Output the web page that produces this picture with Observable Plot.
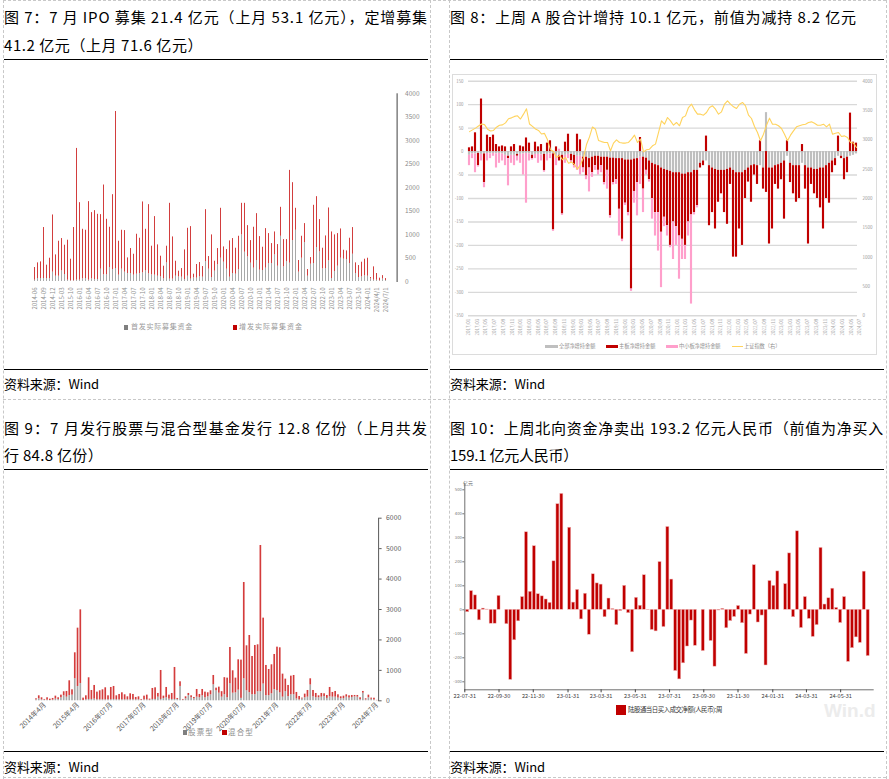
<!DOCTYPE html>
<html><head><meta charset="utf-8">
<script src="https://cdn.jsdelivr.net/npm/d3@7"></script>
<script src="https://cdn.jsdelivr.net/npm/@observablehq/plot@0.6"></script>
<style>
html,body{margin:0;padding:0;background:#fff}
body{width:889px;height:779px;position:relative;overflow:hidden;font-family:"Noto Sans CJK SC","Noto Sans",sans-serif;color:#000}
.t{position:absolute;white-space:nowrap;line-height:1;font-size:15px}
.src{position:absolute;white-space:nowrap;line-height:1;font-size:13px}
.hl{position:absolute;height:0;border-top:1.5px solid #000}
.dv{position:absolute;width:0;border-left:1px dashed #c8c8c8}
.dh{position:absolute;height:0;border-top:1px dashed #c8c8c8}
.lg{position:absolute;white-space:nowrap;line-height:1}
.sq{display:inline-block;vertical-align:middle}
</style></head>
<body>
<script>
// ---------------- Panel 1 (图7) ----------------
const p1TickLabels = ["2014-06","2014-09","2014-12","2015-03","2015-10","2016-01","2016-04","2016-07","2016-10","2017-01","2017-04","2017-07","2017-10","2018-01","2018-04","2018-07","2018-10","2019-01","2019-04","2019-07","2019-10","2020-01","2020-04","2020-07","2020-10","2021-01","2021-04","2021-07","2021-10","2022-01","2022-04","2022-07","2022-10","2023-01","2023-04","2023-07","2023-10","2024-01","2024/4/1","2024/7/1"];
const p1Ipo = [28,64,64,64,60,60,199,113,113,227,149,28,14,14,28,28,57,64,28,57,43,43,262,142,142,298,255,276,135,262,199,170,170,135,156,170,184,227,163,142,135,113,99,57,397,50,50,113,99,92,43,113,50,78,71,99,92,425,262,85,220,355,496,411,262,92,170,156,255,993,624,525,390,284,447,241,234,284,383,383,567,326,964,312,425,390,872,1092,199,496,830,113,369,383,723,631,269,276,440,64,213,326,496,475,468,383,581,170,85,99,121,113,57,28,28,14,53,21];
const p1Add = [270,333,354,1086,288,436,1219,454,745,688,624,852,461,1136,2808,1652,1056,1028,1674,1411,1467,1389,1163,1914,1184,858,1595,3347,723,830,886,333,532,446,851,752,1511,886,1475,610,1248,667,440,269,355,1616,900,319,121,184,631,1021,1120,78,291,305,227,1106,270,908,212,347,1064,326,419,773,745,553,709,673,1042,666,482,872,999,716,496,843,638,425,489,461,617,581,468,1978,1234,468,248,468,404,142,141,1241,1085,688,440,695,1127,992,780,695,624,191,184,539,568,227,255,312,354,383,28,284,142,57,72,41];
const p1Series = ["首发实际募集资金","增发实际募集资金"];
// month categories (IPO-halt months 2015-04..2015-07 absent)
const p1Keys = [];
{ let y = 2014, m = 6;
  while (p1Keys.length < p1Ipo.length) {
    const skip = y === 2015 && m >= 4 && m <= 7;
    if (!skip) {
      let key = `${y}-${String(m).padStart(2,"0")}`;
      if (key === "2024-04") key = "2024/4/1";
      if (key === "2024-07") key = "2024/7/1";
      p1Keys.push(key);
    }
    m++; if (m > 12) { m = 1; y++; }
  }
}
// ---------------- Panel 2 (图8) ----------------
const p2Series = ["全部净增持金额","主板净增持金额","中小板净增持金额"];
const p2All = [-8,-5,-5,-4,-6,-5,-4,-5,-4,-5,-4,-5,-8,-10,-8,-8,-6,-6,-5,-4,-5,-8,-6,-6,-7,-6,-6,-5,-5,-8,-8,-8,-8,-6,-6,-8,-10,-10,-12,-12,-15,-12,-10,
 -10,-12,-12,-12,-14,-14,-15,-15,-15,-18,-18,-18,-16,-15,-12,-12,-14,-20,-25,-28,-30,-35,-38,-40,-42,-45,-45,-45,-48,-48,-45,-45,-40,-40,-25,-20,-20,-30,-35,-38,-40,-40,-40,
 -38,-35,-40,-45,-45,-45,-40,-35,-30,-28,-30,-30,-35,83,-35,-35,-30,-28,-25,-20,-10,-25,-30,-30,-30,-25,-30,-35,-35,-38,-38,-35,-35,-30,-25,-20,-15,-10,-10,-15,-12,-10,-8,-5];
const p2Main = [8,10,40,-26,112,-61,35,30,35,15,10,12,10,-5,10,15,-4,12,10,29,18,-7,20,10,15,-35,18,23,-162,10,-12,-125,20,37,-14,-22,37,25,-23,-40,-20,-33,-20,
 -30,-18,-54,-28,-123,-52,-45,-108,-172,-92,-112,-275,-69,-51,30,-68,-26,-40,-75,-102,-100,-137,-102,-118,-158,-105,-115,-135,-139,-152,-105,-90,-90,-75,-10,-10,33,-128,-95,-127,-68,-50,-90,
 -117,-35,-185,-180,-120,-155,-60,-30,-78,-22,-40,23,-45,-87,-162,-130,-40,-52,-35,-124,23,-41,-60,-78,-70,15,-50,-162,-35,-52,-62,-85,-130,-70,-85,-25,-15,33,-5,-45,-33,82,20,18];
const p2Sme = [-22,-10,-40,-3,-14,-11,-16,-10,-6,-30,-21,-15,-22,-58,-17,-22,-10,-19,-45,-106,-15,-3,-9,-19,-13,-3,-14,-10,-3,-22,5,-3,-17,-9,-5,-5,-30,-40,-10,-8,-51,-10,-10,
 -10,-15,-5,-40,-5,-5,-10,-57,-5,-5,-7,-5,-25,-71,-58,-50,-10,-5,-44,-50,-82,-118,-20,-22,-5,-80,-40,-92,-43,-30,-30,-190,-5,-5];
const p2Sse = [3140,3170,3200,3235,3270,3260,3182,3150,3160,3215,3250,3255,3290,3360,3375,3400,3410,3355,3438,3530,3270,3230,3185,3160,3100,3110,3000,2830,2800,2700,2735,2660,2700,2600,2620,2580,2500,2580,2700,2920,3050,3220,3180,
 2990,2970,2955,2955,2813,2945,3000,2955,2945,2945,2955,3012,3080,2955,3012,2795,2830,2841,2898,2927,3125,3324,3267,3381,3324,3250,3296,3240,3381,3409,3551,3608,3512,3438,3438,3421,3466,3551,3580,3523,3438,3478,3608,
 3665,3608,3563,3535,3608,3637,3580,3421,3364,3228,3125,2984,3097,3250,3370,3267,3267,3240,3194,3097,2984,3080,3154,3222,3240,3256,3267,3296,3307,3284,3250,3250,3267,3222,3267,3097,3114,3125,3057,3068,3040,2955,2945,2870];
const p2LeftTicks = [150,100,50,0,-50,-100,-150,-200,-250,-300,-350];
const p2RightTicks = [4000,3500,3000,2500,2000,1500,1000,500,0];
const p2TickLabels = ["2017/01","2017/03","2017/05","2017/07","2017/09","2017/11","2018/01","2018/03","2018/05","2018/07","2018/09","2018/11","2019/01","2019/03","2019/05","2019/07","2019/09","2019/11","2020/01","2020/03","2020/05","2020/07","2020/09","2020/11","2021/01","2021/03","2021/05","2021/07","2021/09","2021/11","2022/01","2022/03","2022/05","2022/07","2022/09","2022/11","2023/01","2023/03","2023/05","2023/07","2023/09","2023/11","2024/01","2024/03","2024/05","2024/07"];
// ---------------- Panel 3 (图9) ----------------
const p3Series = ["股票型","混合型"];
const p3TickLabels = ["2014年4月","2015年4月","2016年07月","2017年07月","2018年07月","2019年07月","2020年07月","2021年7月","2022年7月","2023年7月","2024年7月"];
const p3Stock = [33,66,33,22,22,11,22,55,44,99,164,120,175,186,723,471,569,11,33,44,44,55,33,33,33,33,33,33,44,33,33,33,33,33,33,33,33,33,22,33,33,22,44,44,120,44,77,99,55,44,44,44,471,22,66,175,99,66,120,99,164,99,131,197,526,328,250,120,200,100,558,250,260,350,80,723,330,270,200,200,300,300,550,170,170,230,370,330,260,120,300,140,200,200,60,30,60,100,120,520,130,100,100,120,140,80,130,120,120,90,70,70,120,90,110,130,120,40,250,30,100,50,30,5];
const p3Mixed = [33,98,66,22,77,44,55,98,55,87,132,187,482,175,854,1916,2420,77,131,712,295,449,252,296,328,394,131,405,427,131,175,230,164,98,197,175,77,98,22,120,153,33,361,383,121,952,76,339,131,197,1051,33,153,22,65,66,65,44,252,109,208,186,132,132,306,88,199,180,560,645,1194,736,485,997,1256,3164,1477,1876,1256,1618,1540,4803,2166,991,859,953,1152,1433,1481,756,412,364,610,632,214,112,28,119,219,203,209,141,64,121,90,95,308,154,187,107,61,83,77,74,65,45,55,59,57,36,86,38,55,8];
const p3Keys = p3Stock.map((_, i) => (i % 12 === 3 ? p3TickLabels[(i - 3) / 12] : "m" + i));
// ---------------- Panel 4 (图10) ----------------
const p4Flow = [-10,78,60,-44,5,1,-58,-58,58,null,-60,-292,-127,-48,53,323,75,265,65,56,43,29,202,440,483,null,342,30,83,-40,67,-104,148,110,105,-31,47,3,-64,-5,100,-14,-177,50,17,144,-1,-84,-90,199,-72,345,126,-255,-290,-223,-153,-45,-150,null,-172,null,-130,-237,-3,4,-77,-47,-30,16,-56,-184,-20,186,-53,-24,-232,120,100,160,null,107,235,-31,327,-76,53,-38,-113,-64,258,22,48,88,8,-55,53,-217,-160,-115,-138,159,-193];
const p4TickLabels = ["22-07-31","22-09-30","22-11-30","23-01-31","23-03-31","23-05-31","23-07-31","23-09-30","23-11-30","24-01-31","24-03-31","24-05-31"];
const p4YTicks = [500,400,300,200,100,0,-100,-200,-300];

const FF = "'Noto Sans CJK SC','Noto Sans',sans-serif";
const DAY = 864e5;
function place(node, left, top) {
  const d = document.createElement("div");
  d.style.cssText = `position:absolute;left:${left}px;top:${top}px;`;
  d.appendChild(node); document.body.appendChild(d); return d;
}
function html(s) { const d = document.createElement("div"); d.innerHTML = s; while (d.firstChild) document.body.appendChild(d.firstChild); }

// ---------- chart 1 ----------
const p1Rows = [];
p1Keys.forEach((k, i) => { p1Rows.push({k, s: p1Series[0], v: p1Ipo[i]}); p1Rows.push({k, s: p1Series[1], v: p1Add[i]}); });
const c1 = Plot.plot({
  width: 424, height: 308, marginLeft: 20.4, marginRight: 31.4, marginTop: 32.3, marginBottom: 88,
  style: {fontFamily: FF, background: "transparent", overflow: "visible"},
  x: {type: "band", domain: p1Keys, paddingInner: 0.52, paddingOuter: 0.26, label: null},
  y: {domain: [0, 4000], label: null},
  color: {domain: p1Series, range: ["#a8a8a8", "#d23e3e"]},
  marks: [
    Plot.barY(p1Rows, {x: "k", y: "v", fill: "s"}),
    Plot.axisX({ticks: p1TickLabels, tickRotate: -90, tickSize: 0, tickPadding: 6, fontSize: 6, color: "#8c8c8c", label: null}),
    Plot.axisY({anchor: "right", ticks: d3.range(0, 4001, 500), tickFormat: d => String(d), tickSize: 0, tickPadding: 8, fontSize: 6.5, color: "#8c8c8c", label: null}),
    Plot.frame({anchor: "right", stroke: "#404040"})
  ]
});
place(c1, 4, 61);

// ---------- chart 2 ----------
const p2Start = new Date(Date.UTC(2017, 0, 6));
const p2Dates = p2All.map((_, k) => d3.utcDay.offset(p2Start, 21 * k));
const p2Rows = [];
p2Dates.forEach((date, k) => {
  p2Rows.push({date, s: p2Series[0], v: p2All[k]});
  p2Rows.push({date, s: p2Series[1], v: p2Main[k]});
  if (k < p2Sme.length) p2Rows.push({date, s: p2Series[2], v: p2Sme[k]});
});
const p2Line = p2Dates.map((date, k) => ({date, sse: p2Sse[k]}));
const toLeft = v => -350 + v / 8;
const p2Stack = Plot.stackY({x: "date", x1: d => new Date(+d.date - 7.5 * DAY), x2: d => new Date(+d.date + 7.5 * DAY), y: "v", fill: "s"});
delete p2Stack.x;
const p2TickDates = p2TickLabels.map(s => d3.utcParse("%Y/%m")(s));
const c2 = Plot.plot({
  width: 444, height: 309, marginLeft: 23, marginRight: 32, marginTop: 19.7, marginBottom: 54.7,
  style: {fontFamily: FF, background: "transparent", overflow: "visible"},
  x: {type: "utc", domain: [p2Dates[0], p2Dates[p2Dates.length - 1]], range: [24, 411], label: null},
  y: {domain: [-350, 150], label: null},
  color: {domain: p2Series, range: ["#bfbfbf", "#c00000", "#ff9fcb"]},
  marks: [
    Plot.gridY({ticks: p2LeftTicks, stroke: "#d9d9d9", strokeOpacity: 1, strokeWidth: 1.4}),
    Plot.rect(p2Rows, p2Stack),
    Plot.line(p2Line, {x: "date", y: d => toLeft(d.sse), stroke: "#ffd35c", strokeWidth: 1.1}),
    Plot.axisY({anchor: "left", ticks: p2LeftTicks, tickFormat: d => String(d), tickSize: 0, tickPadding: 5, fontSize: 4.3, color: "#9a9a9a", label: null}),
    Plot.axisY({anchor: "right", ticks: p2RightTicks.map(toLeft), tickFormat: d => String(Math.round((d + 350) * 8)), tickSize: 0, tickPadding: 5, fontSize: 4.5, color: "#9a9a9a", label: null}),
    Plot.axisX({ticks: p2TickDates, tickFormat: "%Y/%m", tickRotate: -90, tickSize: 0, tickPadding: 3, fontSize: 4.5, color: "#a8a8a8", label: null})
  ]
});
place(c2, 445, 61);

// ---------- chart 3 ----------
const p3Rows = [];
p3Keys.forEach((k, i) => { p3Rows.push({k, s: p3Series[0], v: p3Stock[i]}); p3Rows.push({k, s: p3Series[1], v: p3Mixed[i]}); });
const c3 = Plot.plot({
  width: 424, height: 281, marginLeft: 30.6, marginRight: 49.9, marginTop: 46.7, marginBottom: 51.7,
  style: {fontFamily: FF, background: "transparent", overflow: "visible"},
  x: {type: "band", domain: p3Keys, paddingInner: 0.4, paddingOuter: 0.2, label: null},
  y: {domain: [0, 6000], label: null},
  color: {domain: p3Series, range: ["#a8a8a8", "#d43c3c"]},
  marks: [
    Plot.barY(p3Rows, {x: "k", y: "v", fill: "s"}),
    Plot.axisX({ticks: p3TickLabels, tickRotate: -45, tickSize: 0, tickPadding: 3, fontSize: 7, color: "#595959", label: null}),
    Plot.axisY({anchor: "right", ticks: d3.range(0, 6001, 1000), tickFormat: d => String(d), tickSize: 2.5, tickPadding: 5, fontSize: 6.8, color: "#595959", label: null}),
    Plot.frame({anchor: "right", stroke: "#595959"})
  ]
});
place(c3, 4, 471);

// ---------- chart 4 ----------
const p4Start = new Date(Date.UTC(2022, 7, 5));
const p4Rows = p4Flow.map((v, i) => ({date: d3.utcDay.offset(p4Start, 7 * i), v})).filter(d => d.v != null);
const p4Stack = Plot.stackY({x: "date", x1: d => new Date(+d.date - 2.7 * DAY), x2: d => new Date(+d.date + 2.7 * DAY), y: "v"});
delete p4Stack.x;
const p4TickDates = p4TickLabels.map(s => d3.utcParse("%y-%m-%d")(s));
const c4 = Plot.plot({
  width: 444, height: 281, marginLeft: 19.3, marginRight: 16.3, marginTop: 12, marginBottom: 62.7,
  style: {fontFamily: FF, background: "transparent", overflow: "visible"},
  x: {type: "utc", domain: [new Date(Date.UTC(2022, 6, 31)), new Date(Date.UTC(2024, 6, 28))], range: [19.3, 427.7], label: null},
  y: {domain: [-300, 500], range: [210.3, 18.3], label: null},
  marks: [
    Plot.rect(p4Rows, {...p4Stack, fill: "#c00000", stroke: "#f2b9b9", strokeWidth: 0.5}),
    Plot.frame({anchor: "left", stroke: "#707070"}),
    Plot.frame({anchor: "bottom", stroke: "#707070"}),
    Plot.axisY({anchor: "left", ticks: p4YTicks, tickFormat: d => String(d), tickSize: 2, tickPadding: 1, fontSize: 4.2, color: "#707070", label: null}),
    Plot.axisX({ticks: p4TickDates, tickFormat: "%y-%m-%d", tickSize: 3, tickPadding: 1.5, fontSize: 5.6, color: "#404040", label: null})
  ]
});
place(c4, 445, 471);

// ---------- text, legends, rules ----------
html(`
<div class="lg" style="left:824px;top:701px;font-size:19px;font-weight:700;color:#ececec;font-family:'Liberation Sans','DejaVu Sans',sans-serif">Win.d</div>
<div class="lg" style="left:463px;top:480px;font-size:5px;color:#707070">亿元</div>
<div class="lg" style="left:124px;top:323px;font-size:7px;color:#9a9a9a"><span class="sq" style="width:4px;height:5px;background:#7f7f7f;margin-right:3px"></span><span data-w="62">首发实际募集资金</span></div>
<div class="lg" style="left:233px;top:323px;font-size:7px;color:#9a9a9a"><span class="sq" style="width:4px;height:5px;background:#c00000;margin-right:2px"></span><span data-w="64">增发实际募集资金</span></div>
<div class="lg" style="left:545px;top:343px;font-size:5.2px;color:#8c8c8c"><span class="sq" style="width:13px;height:3px;background:#bfbfbf;margin-right:1px"></span><span>全部净增持金额</span></div>
<div class="lg" style="left:606px;top:343px;font-size:5.2px;color:#8c8c8c"><span class="sq" style="width:12px;height:3px;background:#c00000;margin-right:1px"></span><span>主板净增持金额</span></div>
<div class="lg" style="left:666px;top:343px;font-size:5.2px;color:#8c8c8c"><span class="sq" style="width:12px;height:3px;background:#ff9fcb;margin-right:1px"></span><span>中小板净增持金额</span></div>
<div class="lg" style="left:732px;top:343px;font-size:5.2px;color:#8c8c8c"><span class="sq" style="width:11px;height:1px;background:#ffd35c;margin-right:1px"></span><span>上证指数（右）</span></div>
<div class="lg" style="left:183px;top:728px;font-size:7.5px;color:#8c8c8c"><span class="sq" style="width:4px;height:5px;background:#7f7f7f;margin-right:1px"></span><span data-w="26">股票型</span></div>
<div class="lg" style="left:222px;top:728px;font-size:7.5px;color:#8c8c8c"><span class="sq" style="width:5px;height:5px;background:#c00000;margin-right:1px"></span><span data-w="26">混合型</span></div>
<div class="lg" style="left:616px;top:705px;font-size:6.4px;color:#333"><span class="sq" style="width:10px;height:10px;background:#c00000;margin-right:2px"></span><span data-w="94">陆股通当日买入成交净额(人民币):周</span></div>

<div style="position:absolute;left:452px;top:74px;width:423px;height:279px;border:1px solid #dcdcdc"></div>

<div class="t" style="left:4px;top:9px" data-w="424">图 7：7 月 IPO 募集 21.4 亿元（上月 53.1 亿元），定增募集</div>
<div class="t" style="left:4px;top:37px" data-w="199">41.2 亿元（上月 71.6 亿元）</div>
<div class="t" style="left:450px;top:9px" data-w="407">图 8：上周 A 股合计增持 10.1 亿元，前值为减持 8.2 亿元</div>
<div class="t" style="left:4px;top:420px" data-w="424">图 9：7 月发行股票与混合型基金发行 12.8 亿份（上月共发</div>
<div class="t" style="left:4px;top:447px" data-w="99">行 84.8 亿份）</div>
<div class="t" style="left:450px;top:420px" data-w="434">图 10：上周北向资金净卖出 193.2 亿元人民币（前值为净买入</div>
<div class="t" style="left:450px;top:447px" data-w="128">159.1 亿元人民币）</div>
<div class="src" style="left:4px;top:377px" data-w="95">资料来源：Wind</div>
<div class="src" style="left:450px;top:377px" data-w="95">资料来源：Wind</div>
<div class="src" style="left:4px;top:760px" data-w="95">资料来源：Wind</div>
<div class="src" style="left:450px;top:760px" data-w="95">资料来源：Wind</div>

<div class="hl" style="left:4px;top:59px;width:424px"></div>
<div class="hl" style="left:450px;top:59px;width:434px"></div>
<div class="hl" style="left:4px;top:369px;width:424px"></div>
<div class="hl" style="left:450px;top:369px;width:434px"></div>
<div class="hl" style="left:4px;top:469px;width:424px"></div>
<div class="hl" style="left:450px;top:469px;width:434px"></div>
<div class="hl" style="left:4px;top:751px;width:424px"></div>
<div class="hl" style="left:450px;top:751px;width:434px"></div>

<div class="dv" style="left:3px;top:0;height:779px"></div>
<div class="dv" style="left:430px;top:0;height:779px"></div>
<div class="dv" style="left:449px;top:0;height:779px"></div>
<div class="dv" style="left:886px;top:0;height:779px"></div>
<div class="dh" style="left:3px;top:0;width:883px"></div>
<div class="dh" style="left:3px;top:399px;width:883px"></div>
<div class="dh" style="left:3px;top:777px;width:883px"></div>
`);

// fit text lines to their measured widths in the reference
document.querySelectorAll("[data-w]").forEach(el => {
  const target = +el.dataset.w;
  const n = [...el.textContent].length;
  const w = el.getBoundingClientRect().width;
  el.style.letterSpacing = ((target - w) / n) + "px";
});
</script>
</body></html>
